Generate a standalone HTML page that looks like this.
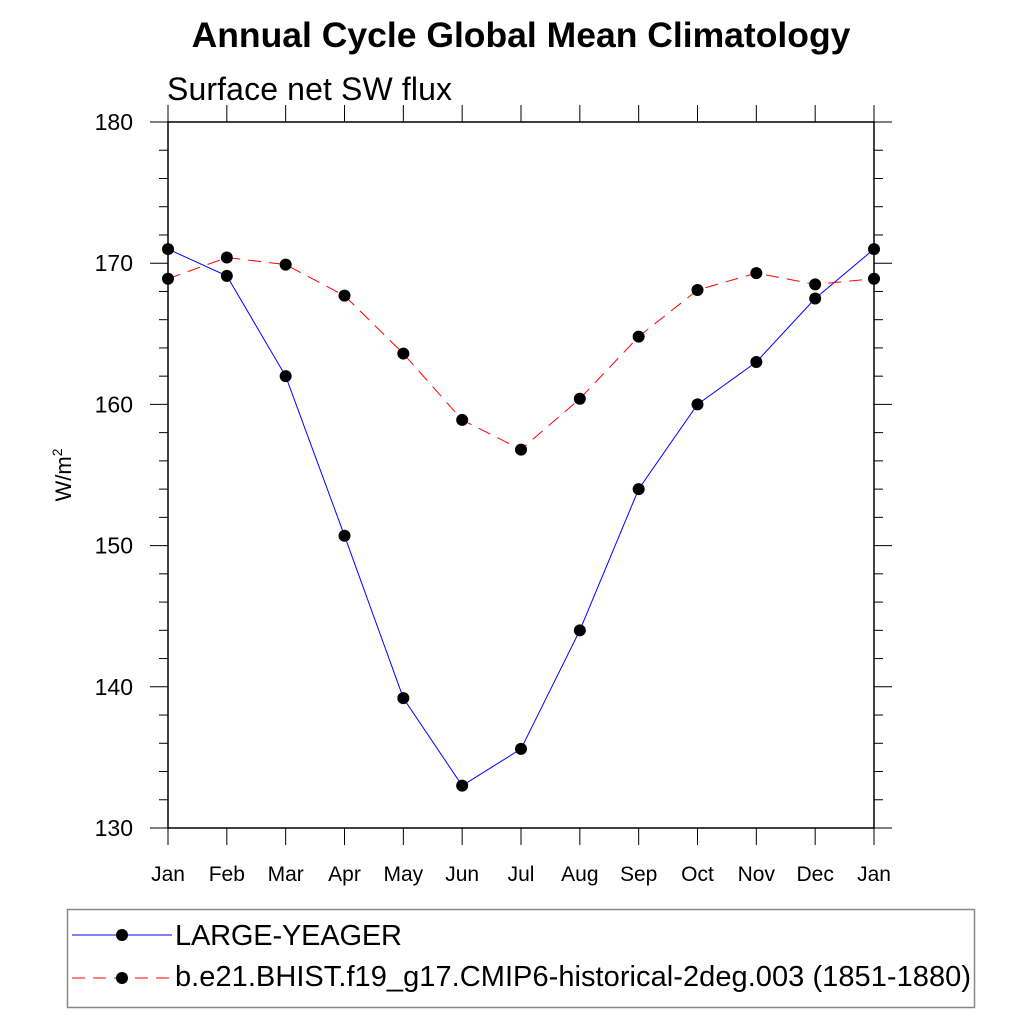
<!DOCTYPE html>
<html><head><meta charset="utf-8"><style>
html,body{margin:0;padding:0;background:#fff;}
svg{display:block;font-family:"Liberation Sans",Arial,sans-serif;}
</style></head><body>
<svg id="chart" width="1024" height="1024" viewBox="0 0 1024 1024">
<text x="521" y="47" text-anchor="middle" font-size="35.5" font-weight="bold">Annual Cycle Global Mean Climatology</text>
<text x="167" y="100" font-size="32" textLength="285">Surface net SW flux</text>
<text transform="translate(71,475) rotate(-90)" text-anchor="middle" font-size="22">W/m<tspan dy="-9" font-size="14">2</tspan></text>
<g id="axes"></g>
<g id="series"></g>
<rect x="67.5" y="909.5" width="907" height="98" fill="none" stroke="#888" stroke-width="1.5"/>
<g>
<line x1="72" y1="935" x2="172" y2="935" stroke="#0000ff" stroke-width="1"/>
<circle cx="122" cy="935" r="6" fill="#000"/>
<text x="175" y="945" font-size="29" textLength="227">LARGE-YEAGER</text>
</g>
<g>
<line x1="72" y1="978" x2="172" y2="978" stroke="#ff0000" stroke-width="1" stroke-dasharray="13,8"/>
<circle cx="122" cy="978" r="6" fill="#000"/>
<text x="175" y="986" font-size="29" textLength="796">b.e21.BHIST.f19_g17.CMIP6-historical-2deg.003 (1851-1880)</text>
</g>
</svg>
<script>
const months = ["Jan","Feb","Mar","Apr","May","Jun","Jul","Aug","Sep","Oct","Nov","Dec","Jan"];
const largeYeager = [171.0,169.1,162.0,150.7,139.2,133.0,135.6,144.0,154.0,160.0,163.0,167.5,171.0];
const bhist = [168.9,170.4,169.9,167.7,163.6,158.9,156.8,160.4,164.8,168.1,169.3,168.5,168.9];
const yTicks = [130,140,150,160,170,180];

const NS="http://www.w3.org/2000/svg";
const L=168,R=874,T=122,B=828,yMin=130,yMax=180;
const xs=i=>L+(R-L)*i/(months.length-1);
const ys=v=>B-(B-T)*(v-yMin)/(yMax-yMin);
function mk(tag,attrs,parent){const e=document.createElementNS(NS,tag);for(const k in attrs)e.setAttribute(k,attrs[k]);parent.appendChild(e);return e;}
const ax=document.getElementById('axes');
const frame=mk('rect',{x:L,y:T,width:R-L,height:B-T,fill:'none',stroke:'#000','stroke-width':1.5},ax);


for(let v=yMin;v<=yMax;v+=2){
  const y=ys(v),major=(v%10===0),len=major?18:9;
  mk('line',{x1:L-len,y1:y,x2:L,y2:y,stroke:'#000','stroke-width':1},ax);
  mk('line',{x1:R,y1:y,x2:R+len,y2:y,stroke:'#000','stroke-width':1},ax);
}
yTicks.forEach(v=>{
  const t=mk('text',{x:133,y:ys(v)+8,'text-anchor':'end','font-size':23},ax);
  t.textContent=v;
  
  
});
months.forEach((m,i)=>{
  const x=xs(i);
  mk('line',{x1:x,y1:B,x2:x,y2:B+17,stroke:'#000','stroke-width':1},ax);
  mk('line',{x1:x,y1:T-17,x2:x,y2:T,stroke:'#000','stroke-width':1},ax);
  const t=mk('text',{x:x,y:881,'text-anchor':'middle','font-size':21},ax);
  t.textContent=m;
  
  
});
const sg=document.getElementById('series');
function draw(vals,color,dash,name){
  const g=mk('g',{},sg);
  
  
  const p=mk('polyline',{points:vals.map((v,i)=>xs(i)+','+ys(v)).join(' '),fill:'none',stroke:color,'stroke-width':1},g);
  if(dash)p.setAttribute('stroke-dasharray',dash);
  vals.forEach((v,i)=>{
    const c=mk('circle',{cx:xs(i),cy:ys(v),r:6,fill:'#000'},g);
    
    
  });
}
draw(largeYeager,'#0000ff',null,'series-large-yeager');
draw(bhist,'#ff0000','13,8','series-bhist');
</script>
</body></html>
